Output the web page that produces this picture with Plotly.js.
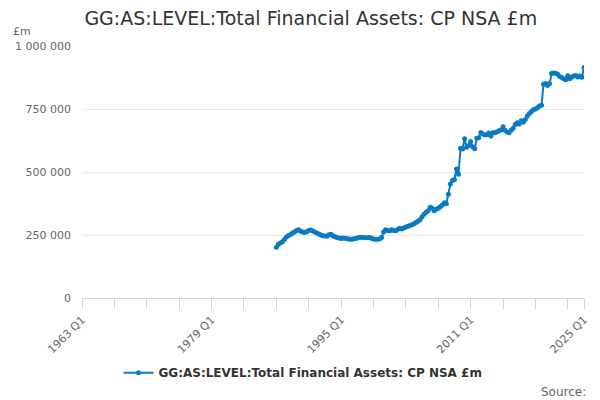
<!DOCTYPE html>
<html>
<head>
<meta charset="utf-8">
<script src="https://cdn.plot.ly/plotly-3.0.1.min.js"></script>
<style>
  html, body { margin: 0; padding: 0; background: #fff; }
  #chart { width: 600px; height: 400px; }
</style>
</head>
<body>
<div id="chart"></div>
<script>
// quarters on the axis run from 1963 Q1 to 2025 Q1, data starts 1987 Q1
var firstYear = 1963
var lastYear = 2025
var dataStart = '1987 Q1'

var labelQuarters = ['1963 Q1', '1979 Q1', '1995 Q1', '2011 Q1', '2025 Q1']

// £m, quarterly, 1987 Q1 .. 2025 Q1
var assets = [
  201000, 213000, 218000, 223000,
  232000, 242000, 248000, 252000,
  258000, 262000, 268000, 271000,
  265000, 262000, 260000, 263000,
  268000, 270000, 266000, 262000,
  258000, 254000, 250000, 247000,
  246000, 245000, 251000, 253000,
  247000, 243000, 240000, 238000,
  236000, 238000, 237000, 235000,
  234000, 233000, 234000, 236000,
  238000, 240000, 241000, 240000,
  239000, 239000, 240000, 237000,
  234000, 233000, 233000, 234000,
  240000, 262000, 271000, 268000,
  267000, 271000, 268000, 267000,
  273000, 277000, 274000, 278000,
  282000, 285000, 288000, 291000,
  295000, 300000, 305000, 311000,
  322000, 332000, 340000, 346000,
  360000, 356000, 346000, 352000,
  356000, 362000, 369000, 378000,
  374000, 412000, 452000, 466000,
  470000, 512000, 491000, 594000,
  591000, 632000, 598000, 605000,
  621000, 600000, 592000, 634000,
  636000, 657000, 651000, 648000,
  648000, 655000, 643000, 656000,
  656000, 660000, 664000, 667000,
  680000, 666000, 659000, 656000,
  666000, 674000, 688000, 695000,
  690000, 703000, 697000, 708000,
  722000, 732000, 740000, 747000,
  750000, 755000, 762000, 765000,
  848000, 851000, 843000, 851000,
  891000, 893000, 892000, 888000,
  879000, 875000, 870000, 866000,
  882000, 870000, 877000, 881000,
  883000, 877000, 881000, 876000,
  915000
]

var quarters = []
for (var y = firstYear; y <= lastYear; y++) {
  for (var q = 1; q <= 4; q++) {
    quarters.push(y + ' Q' + q)
    if (y == lastYear) break
  }
}

var startIdx = quarters.indexOf(dataStart)
var yvals = quarters.map(function(c, i) {
  var k = i - startIdx
  return (k >= 0 && k < assets.length) ? assets[k] : null
})

// tick every 16 quarters, plus the last one; labels only on some
var tickvals = [], ticktext = []
quarters.forEach(function(c, i) {
  if (i % 16 == 0 || i == quarters.length - 1) {
    tickvals.push(c)
    ticktext.push(labelQuarters.indexOf(c) >= 0 ? c : '')
  }
})

var name = 'GG:AS:LEVEL:Total Financial Assets: CP NSA £m'

var trace = {
  x: quarters,
  y: yvals,
  type: 'scatter',
  mode: 'lines+markers',
  name: name,
  line: { color: '#0a7bc1', width: 2 },
  marker: { color: '#0a7bc1', size: 5 },
  connectgaps: false
}

var layout = {
  width: 600,
  height: 400,
  margin: { l: 82, r: 16, t: 46, b: 102 },
  font: { family: 'DejaVu Sans, sans-serif', color: '#666', size: 11 },
  separators: '. ',
  paper_bgcolor: '#fff',
  plot_bgcolor: '#fff',
  title: {
    text: name,
    font: { size: 19, color: '#333' },
    xref: 'container', x: 0.518, xanchor: 'center',
    yref: 'container', y: 0.955, yanchor: 'middle'
  },
  xaxis: {
    type: 'category',
    categoryorder: 'array',
    categoryarray: quarters,
    range: [0, quarters.length - 1],
    tickmode: 'array',
    tickvals: tickvals,
    ticktext: ticktext,
    tickangle: -45,
    ticks: 'outside',
    ticklen: 10,
    tickcolor: '#ccd6eb',
    showline: true,
    linecolor: '#ccd6eb',
    showgrid: false,
    zeroline: false,
    tickfont: { size: 11, color: '#666' }
  },
  yaxis: {
    range: [0, 1000000],
    tickvals: [0, 250000, 500000, 750000, 1000000],
    tickformat: ',',
    showgrid: true,
    gridcolor: '#e6e6e6',
    zeroline: false,
    ticks: '',
    ticklabelstandoff: 10,
    tickfont: { size: 11, color: '#666' }
  },
  showlegend: true,
  legend: {
    orientation: 'h',
    itemwidth: 30,
    xref: 'container', x: 0.505, xanchor: 'center',
    yref: 'container', y: 0.068, yanchor: 'middle',
    font: { size: 12, color: '#333', weight: 'bold' }
  },
  annotations: [
    { text: '£m', xref: 'paper', yref: 'paper', x: -0.142, y: 1.058,
      xanchor: 'left', yanchor: 'middle', showarrow: false,
      font: { size: 11, color: '#666' } },
    { text: 'Source:', xref: 'paper', yref: 'paper', x: 1.008, y: -0.373,
      xanchor: 'right', yanchor: 'middle', showarrow: false,
      font: { size: 12, color: '#666' } }
  ]
}

Plotly.newPlot('chart', [trace], layout, { displayModeBar: false, staticPlot: true })
</script>
</body>
</html>
